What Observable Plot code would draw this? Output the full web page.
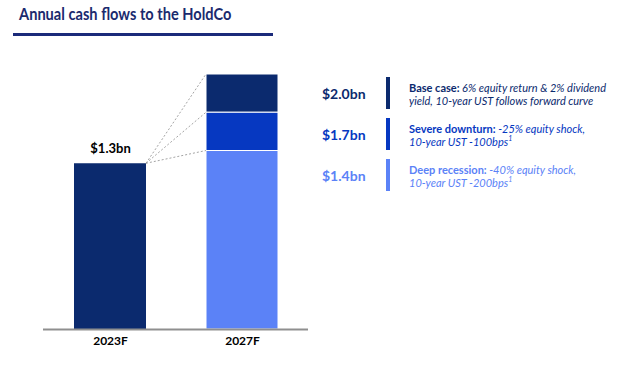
<!DOCTYPE html>
<html><head><meta charset="utf-8">
<script src="https://cdn.jsdelivr.net/npm/d3@7"></script>
<script src="https://cdn.jsdelivr.net/npm/@observablehq/plot@0.6"></script>
<style>
body{margin:0;background:#fff;font-family:Lato,"Open Sans",sans-serif;}
#wrap{position:relative;width:640px;height:379px;overflow:hidden;background:#fff;}
#title{position:absolute;left:19px;top:3px;font-size:17.5px;font-weight:700;color:#1b2a6e;white-space:nowrap;transform-origin:left top;transform:scaleX(0.835);}
#rule{position:absolute;left:13px;top:33px;width:260px;height:3px;background:#1b2a7a;}
#chart{position:absolute;left:0;top:0;}
#legend{position:absolute;left:300px;top:77px;width:340px;}
.row{position:relative;height:32px;margin-bottom:9px;}
.val{position:absolute;left:22px;top:0;height:32px;line-height:33px;font-size:14px;font-weight:700;}
.bar{position:absolute;left:86px;top:0;width:4px;height:32px;}
.txt{position:absolute;left:109px;top:4px;font-size:11px;line-height:13px;font-style:italic;white-space:nowrap;}
.txt b{font-style:normal;font-weight:700;}
.txt sup{font-size:7px;line-height:0;vertical-align:5px;}
</style></head>
<body>
<div id="wrap">
  <div id="title"></div>
  <div id="rule"></div>
  <div id="chart"></div>
  <div id="legend"></div>
</div>
<script>
const titleText = "Annual cash flows to the HoldCo";
const years = ["2023F", "2027F"];
const currentValue = 1.3;
const currentLabel = "$1.3bn";
const scenarios = ["Base case", "Severe downturn", "Deep recession"];
const scenarioValues = [2.0, 1.7, 1.4];
const scenarioLabels = ["$2.0bn", "$1.7bn", "$1.4bn"];
const scenarioLine1 = ["6% equity return & 2% dividend", "-25% equity shock,", "-40% equity shock,"];
const scenarioLine2 = ["yield, 10-year UST follows forward curve", "10-year UST -100bps", "10-year UST -200bps"];
const scenarioFootnote = ["", "1", "1"];
const scenarioColors = ["#0b2a6e", "#0638c1", "#5b82f7"];

document.getElementById("title").textContent = titleText;

// 2027 segments: each scenario drawn from the next lower scenario value up to its own value
const sortedAsc = scenarioValues.slice().sort((a, b) => a - b);
const segments = scenarios.map((name, i) => {
  const v = scenarioValues[i];
  const k = sortedAsc.indexOf(v);
  return {year: years[1], name, lo: k > 0 ? sortedAsc[k - 1] : 0, hi: v};
});
const current = [{year: years[0], value: currentValue, label: currentLabel}];

function connectors(index, scales) {
  const x = scales.x, y = scales.y;
  const bw = typeof x.bandwidth === "function" ? x.bandwidth() : x.bandwidth;
  const g = d3.create("svg:g").attr("stroke", "#9a9a9a").attr("stroke-dasharray", "2,2").attr("stroke-width", 0.9);
  const xa = x(years[0]) + bw, ya = y(currentValue), xb = x(years[1]);
  for (const v of scenarioValues) {
    g.append("line").attr("x1", xa).attr("y1", ya).attr("x2", xb).attr("y2", y(v));
  }
  return g.node();
}

const chart = Plot.plot({
  width: 640, height: 379,
  marginLeft: 43, marginRight: 332, marginTop: 74, marginBottom: 50,
  style: {fontFamily: "Lato, 'Open Sans', sans-serif", fontSize: "12px", fontWeight: 700, color: "#000", background: "transparent"},
  x: {domain: years, paddingInner: 0.455, paddingOuter: 0.23, label: null, tickSize: 0, tickPadding: 7},
  y: {domain: [0, 2], axis: null},
  color: {domain: scenarios, range: scenarioColors},
  marks: [
    Plot.rectY(current, {x: "year", y: "value", fill: scenarioColors[0]}),
    Plot.rectY(segments, {x: "year", y1: "lo", y2: "hi", fill: "name", stroke: "white", strokeWidth: 1}),
    connectors,
    Plot.text(current, {x: "year", y: "value", text: "label", dy: -15, fontSize: 13, fontWeight: 700, fill: "#000"}),
    Plot.ruleY([0], {stroke: "#8f8f8f", strokeWidth: 2})
  ]
});
document.getElementById("chart").appendChild(chart);

const legend = document.getElementById("legend");
scenarios.forEach((name, i) => {
  const row = document.createElement("div");
  row.className = "row";
  row.style.color = scenarioColors[i];
  const sup = scenarioFootnote[i] ? `<sup>${scenarioFootnote[i]}</sup>` : "";
  row.innerHTML = `<div class="val">${scenarioLabels[i]}</div><div class="bar" style="background:${scenarioColors[i]}"></div>` +
    `<div class="txt"><b>${name}:</b> ${scenarioLine1[i]}<br>${scenarioLine2[i]}${sup}</div>`;
  legend.appendChild(row);
});
</script>
</body></html>
